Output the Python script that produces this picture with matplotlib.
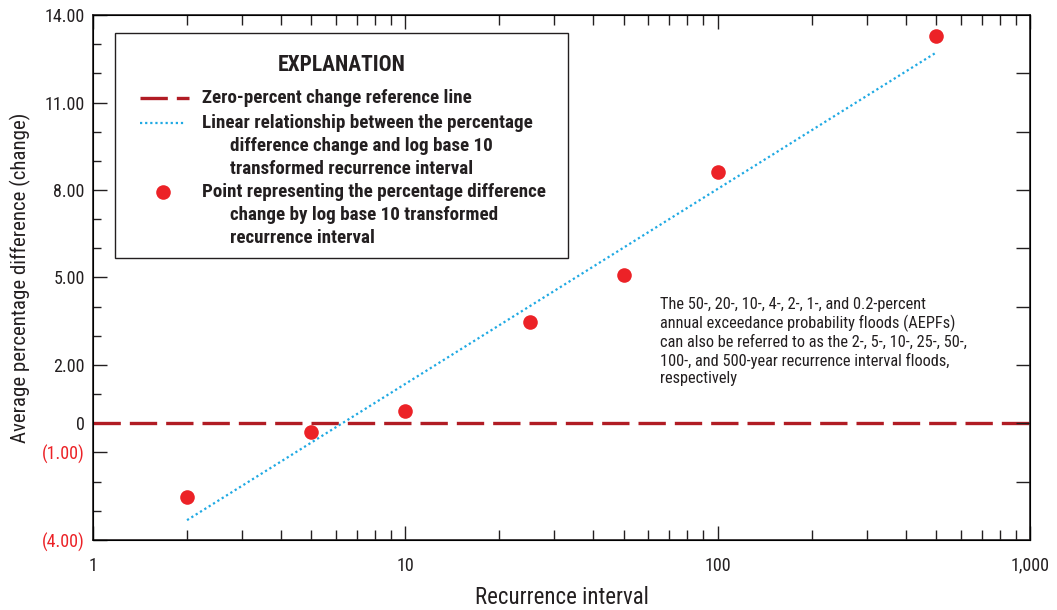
import matplotlib
matplotlib.use("Agg")
import matplotlib.pyplot as plt
from matplotlib.ticker import FixedLocator, NullFormatter
from matplotlib.lines import Line2D
from matplotlib.patches import Rectangle

plt.rcParams['font.family'] = ['Roboto Condensed', 'DejaVu Sans']

# recurrence interval (years) and average percentage difference
intervalo = [2, 5, 10, 25, 50, 100, 500]
diferenca = [-2.53, -0.31, 0.41, 3.49, 5.10, 8.60, 13.29]

# ends of the fitted line (log10 of recurrence interval)
ajuste_x = [2, 500]
ajuste_y = [-3.32, 12.71]

ytick_vals = [14, 11, 8, 5, 2, 0, -1, -4]
ytick_txt = ['14.00', '11.00', '8.00', '5.00', '2.00', '0', '(1.00)', '(4.00)']
xtick_vals = [1, 10, 100, 1000]
xtick_txt = ['1', '10', '100', '1,000']

nota = ("The 50-, 20-, 10-, 4-, 2-, 1-, and 0.2-percent\n"
        "annual exceedance probability floods (AEPFs)\n"
        "can also be referred to as the 2-, 5-, 10-, 25-, 50-,\n"
        "100-, and 500-year recurrence interval floods,\n"
        "respectively")

vermelho = '#ec2227'
bordo = '#b11c24'
azul = '#1fa9e3'
cinza = '#231f20'

fig = plt.figure(figsize=(10.57, 6.10), dpi=100)
ax = fig.add_axes([0.088, 0.1148, 0.8865, 0.8606])

ax.axhline(0, color=bordo, lw=2.4, dashes=(8.2, 2.7))
ax.plot(ajuste_x, ajuste_y, color=azul, lw=1.6, dashes=(1, 1.3))
ax.plot(intervalo, diferenca, 'o', color=vermelho, ms=10.5, mec='none')

ax.set_xscale('log')
ax.set_xlim(1, 1000)
ax.set_ylim(-4, 14)

ax.xaxis.set_major_locator(FixedLocator(xtick_vals))
ax.set_xticklabels(xtick_txt)
minors = [m * d for d in (1, 10, 100) for m in range(2, 10)]
ax.xaxis.set_minor_locator(FixedLocator(minors))
ax.xaxis.set_minor_formatter(NullFormatter())

ax.yaxis.set_major_locator(FixedLocator(ytick_vals))
ax.set_yticklabels(ytick_txt)
ax.yaxis.set_minor_locator(FixedLocator([v for v in range(-4, 15) if v not in ytick_vals]))

ax.tick_params(axis='both', which='both', direction='in', colors=cinza, width=1.0)
ax.tick_params(axis='x', which='both', top=True, labelsize=13, pad=12)
ax.tick_params(axis='x', which='major', length=10)
ax.tick_params(axis='x', which='minor', length=7)
ax.tick_params(axis='y', which='major', length=10, labelsize=13, pad=6)
ax.tick_params(axis='y', which='minor', length=6)
for lbl, v in zip(ax.get_yticklabels(), ytick_vals):
    lbl.set_color(vermelho if v < 0 else cinza)
for s in ax.spines.values():
    s.set_linewidth(1.2)
    s.set_color(cinza)

# right side carries its own ticks every two units
ax2 = ax.twinx()
ax2.set_ylim(-4, 14)
ax2.set_yticks(range(-2, 13, 2))
ax2.tick_params(axis='y', direction='in', length=10, width=1.0, labelright=False, colors=cinza)

ax.set_xlabel('Recurrence interval', fontsize=16.5, color=cinza, labelpad=8)
ax.set_ylabel('Average percentage difference (change)', fontsize=15, color=cinza, labelpad=8)

# explanation box
ax.add_patch(Rectangle((0.0235, 0.537), 0.4834, 0.4287, transform=ax.transAxes,
                       fill=True, facecolor='white', edgecolor=cinza, lw=1.0, zorder=5))
ax.text(0.2657, 0.905, 'EXPLANATION', transform=ax.transAxes, ha='center', va='center',
        fontsize=15.5, fontweight='bold', color=cinza, zorder=6)
ax.add_line(Line2D([0.050, 0.102], [0.842, 0.842], transform=ax.transAxes, color=bordo,
                   lw=2.4, dashes=(8.2, 2.7), zorder=6))
ax.add_line(Line2D([0.050, 0.098], [0.794, 0.794], transform=ax.transAxes, color=azul,
                   lw=1.6, dashes=(1, 1.3), zorder=6))
ax.add_line(Line2D([0.0746], [0.663], transform=ax.transAxes, marker='o', color=vermelho,
                   ms=10.5, mec='none', zorder=6))
passo = 23 / 525
linhas = [
    (0.1163, 0.842, 'Zero-percent change reference line'),
    (0.1163, 0.794, 'Linear relationship between the percentage'),
    (0.146, 0.794 - passo, 'difference change and log base 10'),
    (0.146, 0.794 - 2 * passo, 'transformed recurrence interval'),
    (0.1163, 0.663, 'Point representing the percentage difference'),
    (0.146, 0.663 - passo, 'change by log base 10 transformed'),
    (0.146, 0.663 - 2 * passo, 'recurrence interval'),
]
for x, y, t in linhas:
    ax.text(x, y, t, transform=ax.transAxes, ha='left', va='center', fontsize=13.7,
            fontweight='bold', color=cinza, zorder=6)

ax.text(0.6052, 0.462, nota, transform=ax.transAxes, ha='left', va='top', fontsize=11.8,
        color=cinza, linespacing=1.2)

fig.savefig('out.png', dpi=100)
